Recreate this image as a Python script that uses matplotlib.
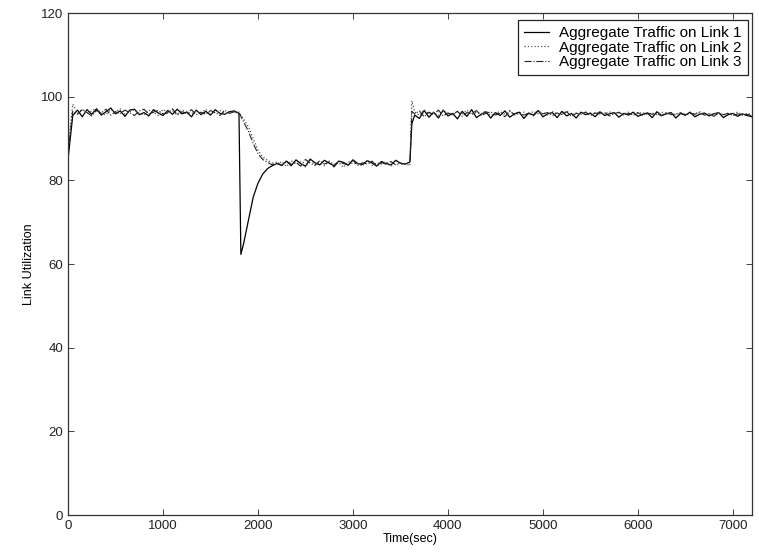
import matplotlib
matplotlib.use("Agg")
import matplotlib.pyplot as plt

plt.rcParams['font.family'] = ['Liberation Sans', 'DejaVu Sans']

time_sec = list(range(0, 1801, 50)) + [1820] + list(range(1850, 3601, 50)) + [3620] + list(range(3650, 7201, 50))

link1 = [
    85.0, 95.5, 96.8, 95.2, 96.9, 95.8, 97.1, 95.6, 96.4, 97.3,
    95.9, 96.6, 95.3, 96.8, 97.0, 95.7, 96.2, 95.4, 96.9, 96.1,
    95.5, 96.7, 95.8, 97.0, 95.9, 96.3, 95.2, 96.8, 95.7, 96.5,
    95.6, 96.9, 96.0, 95.8, 96.4, 96.6, 96.0,
    62.3,
    65.0, 70.5, 76.0, 79.3, 81.5, 82.8, 83.5, 84.0, 83.6,
    84.6, 83.5, 84.9, 84.0, 83.4, 85.1, 84.2, 83.7, 84.8, 84.1,
    83.5, 84.6, 84.3, 83.6, 84.9, 84.0, 83.8, 84.7, 84.2, 83.4,
    84.5, 84.0, 83.7, 84.8, 84.1, 83.9, 84.4,
    93.5,
    95.6, 94.8, 96.7, 95.1, 96.3, 94.9, 96.8, 95.4, 96.0, 94.7,
    96.5, 95.3, 96.9, 95.0, 95.8, 96.4, 94.9, 96.2, 95.5, 96.6,
    95.1, 95.9, 96.3, 94.8, 96.1, 95.6, 96.7, 95.2, 95.9, 96.2,
    95.0, 96.5, 95.4, 96.0, 94.9, 96.3, 95.7, 96.1, 95.2, 96.4,
    95.5, 95.9, 96.2, 95.1, 96.0, 95.6, 96.3, 95.3, 95.8, 96.1,
    95.0, 96.4, 95.5, 95.9, 96.2, 94.9, 96.0, 95.6, 96.3, 95.2,
    95.8, 96.1, 95.4, 95.9, 96.2, 95.0, 95.7, 96.0, 95.3, 95.9,
    95.5, 95.2,
]

link2 = [
    88.0, 98.2, 96.1, 97.0, 95.9, 96.6, 97.2, 96.0, 95.7, 96.9,
    96.3, 97.1, 95.8, 96.4, 96.9, 96.0, 95.6, 96.8, 96.2, 95.5,
    97.0, 96.1, 96.5, 95.7, 96.8, 96.4, 95.9, 96.6, 96.1, 97.0,
    95.8, 96.3, 96.7, 95.9, 96.5, 96.2, 96.3,
    95.6,
    94.6, 92.8, 90.0, 87.2, 85.6, 84.8, 84.2, 83.6, 84.5,
    83.3, 84.7, 83.9, 84.4, 83.2, 84.9, 83.7, 84.2, 83.5, 84.6,
    83.8, 84.3, 83.1, 84.5, 83.9, 84.1, 83.4, 84.8, 83.6, 84.2,
    83.9, 84.5, 83.3, 84.6, 83.8, 84.0, 83.5,
    99.0,
    96.4, 95.5, 96.9, 95.9, 96.2, 95.4, 96.7, 96.0, 95.6, 96.5,
    95.8, 96.8, 95.7, 96.3, 95.9, 96.6, 95.5, 96.1, 96.4, 95.8,
    96.7, 95.6, 96.0, 96.3, 95.7, 96.5, 95.9, 96.2, 95.6, 96.4,
    96.0, 95.8, 96.6, 95.7, 96.1, 95.9, 96.3, 95.6, 96.2, 96.0,
    95.8, 96.4, 95.7, 96.1, 95.9, 96.3, 95.6, 96.0, 96.2, 95.8,
    96.1, 95.7, 96.3, 95.9, 96.0, 95.6, 96.2, 95.8, 96.1, 95.9,
    96.4, 95.7, 96.0, 95.8, 96.2, 95.6, 96.1, 95.9, 96.3, 95.7,
    96.0, 95.8,
]

link3 = [
    86.5, 96.5, 95.8, 96.9, 96.2, 95.4, 96.7, 96.1, 97.0, 95.6,
    96.4, 95.9, 96.8, 96.2, 95.5, 96.6, 97.0, 95.8, 96.3, 96.7,
    95.9, 96.1, 97.1, 95.6, 96.4, 96.0, 96.9, 95.7, 96.3, 95.8,
    96.7, 96.2, 95.5, 96.8, 96.0, 96.4, 96.1,
    95.3,
    93.9, 91.7, 88.8, 86.4, 85.0, 84.3, 83.7, 84.4, 83.5,
    84.6, 83.8, 84.3, 83.4, 85.0, 84.1, 83.6, 84.7, 83.9, 84.4,
    83.2, 84.5, 84.0, 83.7, 84.8, 83.6, 84.2, 83.9, 84.6, 83.4,
    84.3, 83.8, 84.5, 83.7, 84.1, 83.9, 84.3,
    96.5,
    95.9, 96.6, 95.2, 96.3, 95.7, 96.8, 95.4, 96.1, 95.8, 96.5,
    95.3, 96.2, 95.9, 96.7, 95.5, 96.0, 96.4, 95.6, 96.1, 95.2,
    96.5, 95.8, 96.3, 95.6, 96.0, 95.4, 96.6, 95.9, 96.2, 95.5,
    96.1, 95.7, 96.4, 95.3, 96.0, 95.8, 96.3, 95.5, 96.1, 95.9,
    96.2, 95.4, 95.9, 96.3, 95.6, 96.0, 95.7, 96.2, 95.5, 96.1,
    95.8, 96.0, 95.4, 96.3, 95.7, 95.9, 96.1, 95.5, 96.0, 95.8,
    96.2, 95.6, 95.9, 95.3, 96.1, 95.7, 96.0, 95.5, 95.9, 95.6,
    95.8, 95.4,
]

labels = ["Aggregate Traffic on Link 1", "Aggregate Traffic on Link 2", "Aggregate Traffic on Link 3"]
x_ticks = [0, 1000, 2000, 3000, 4000, 5000, 6000, 7000]
y_ticks = [0, 20, 40, 60, 80, 100, 120]

fig = plt.figure(figsize=(7.59, 5.52), dpi=100)
ax = fig.add_axes([0.0896, 0.067, 0.901, 0.9094])

ax.plot(time_sec, link1, color='black', linestyle='-', linewidth=0.9, label=labels[0])
ax.plot(time_sec, link2, color='#555555', linestyle=':', linewidth=0.9, label=labels[1])
ax.plot(time_sec, link3, color='#222222', linestyle='-.', linewidth=0.8, label=labels[2])

ax.set_xlim(0, 7200)
ax.set_ylim(0, 120)
ax.set_xticks(x_ticks)
ax.set_yticks(y_ticks)
ax.tick_params(direction='in', top=True, right=True, length=4, width=0.6, labelsize=9.5, colors='#222222')
for s in ax.spines.values():
    s.set_linewidth(0.9)
    s.set_color('#333333')
ax.set_xlabel("Time(sec)", fontsize=9, labelpad=1)
ax.set_ylabel("Link Utilization", fontsize=9, labelpad=4)

leg = ax.legend(loc='upper right', bbox_to_anchor=(0.9942, 0.986), fontsize=11,
                frameon=True, fancybox=False, edgecolor='#222222', framealpha=1,
                borderaxespad=0.0, handlelength=1.65, labelspacing=0.03,
                borderpad=0.4, handletextpad=0.65)
leg.get_frame().set_linewidth(0.9)

fig.savefig("out.png", dpi=100)
